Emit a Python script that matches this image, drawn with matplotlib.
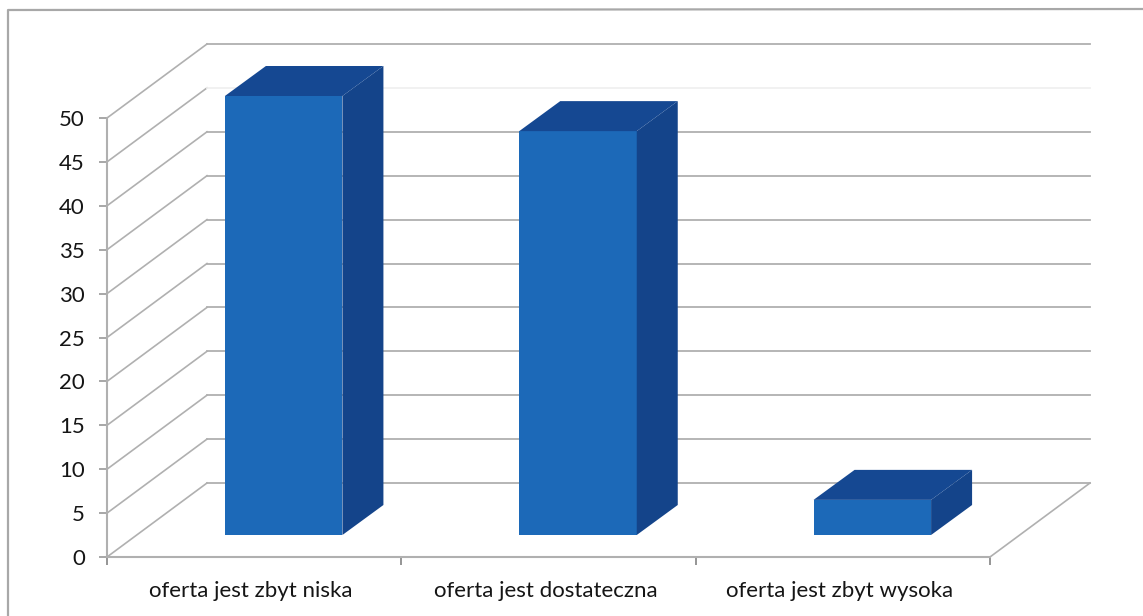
import matplotlib
matplotlib.use('Agg')
import matplotlib.pyplot as plt
from matplotlib.patches import Polygon, Rectangle

categories = ['oferta jest zbyt niska', 'oferta jest dostateczna', 'oferta jest zbyt wysoka']
values = [50, 46, 4]
yticks = [0, 5, 10, 15, 20, 25, 30, 35, 40, 45, 50]

W, H = 1143, 616
plt.rcParams['font.family'] = ['Lato', 'DejaVu Sans']

fig = plt.figure(figsize=(W / 100, H / 100), dpi=100, facecolor='white')
# front plane of the fake 3d box, pixels
ax = fig.add_axes([107 / W, (H - 557) / H, 883 / W, 439 / H])
ax.set_xlim(0, 3)
ax.set_ylim(0, 50)
ax.set_facecolor('none')

grid = '#b0b0b0'
# depth of the box and of the bars, in data units
dx_box, dy_box = 100 / 883 * 3, 74 / 439 * 50
dx_bar, dy_bar = 41 / 883 * 3, 30 / 439 * 50
gap_x, gap_y = 29.5 / 883 * 3, 22 / 439 * 50
bar_w = 117.5 / 883 * 3

for v in yticks:
    ax.plot([0, dx_box], [v, v + dy_box], color=grid, lw=1.2, clip_on=False, zorder=1)
    # the 45 line has nearly faded out of the scan
    c = '#f0f0f0' if v == 45 else grid
    ax.plot([dx_box, 3 + dx_box], [v + dy_box, v + dy_box], color=c, lw=1.3, clip_on=False, zorder=1)
ax.plot([3, 3 + dx_box], [0, dy_box], color=grid, lw=1.2, clip_on=False, zorder=1)

for i, v in enumerate(values):
    x0 = i + 0.5 - bar_w / 2 + gap_x
    x1 = x0 + bar_w
    y0 = gap_y
    y1 = v + gap_y
    ax.add_patch(Rectangle((x0, y0), bar_w, y1 - y0, fc='#1c69b8', ec='none', clip_on=False, zorder=3))
    ax.add_patch(Polygon([(x1, y0), (x1 + dx_bar, y0 + dy_bar), (x1 + dx_bar, y1 + dy_bar), (x1, y1)],
                         fc='#14448a', ec='none', clip_on=False, zorder=3))
    ax.add_patch(Polygon([(x0, y1), (x0 + dx_bar, y1 + dy_bar), (x1 + dx_bar, y1 + dy_bar), (x1, y1)],
                         fc='#154892', ec='none', clip_on=False, zorder=3))

for s in ['top', 'right']:
    ax.spines[s].set_visible(False)
for s in ['left', 'bottom']:
    ax.spines[s].set_color(grid)
    ax.spines[s].set_linewidth(1.5)

ax.set_yticks(yticks)
ax.set_xticks([0, 1, 2, 3])
ax.set_xticklabels([])
ax.set_xticks([0.49, 1.49, 2.49], minor=True)
ax.set_xticklabels(categories, minor=True)
ax.tick_params(axis='x', which='major', length=6, color='#8c8c8c', width=1.3)
ax.tick_params(axis='x', which='minor', length=0, pad=17, labelsize=16, labelcolor='#151515')
ax.tick_params(axis='y', length=6, color='#a0a0a0', width=1.3, pad=10, labelsize=16, labelcolor='#151515')

# outer chart frame, runs off the right and bottom of the scan
fig.add_artist(plt.Line2D([8 / W, 8 / W, 1 / 1], [0, (H - 10) / H, (H - 9) / H],
                          color='#a8a8a8', lw=1.6))

fig.savefig('out.png', dpi=100)
